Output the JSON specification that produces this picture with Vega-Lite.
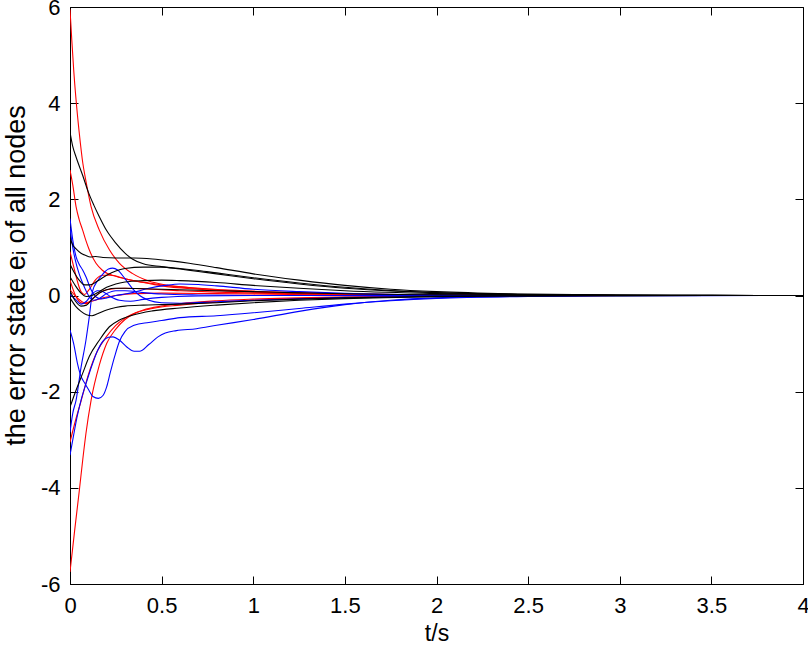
{
"$schema":"https://vega.github.io/schema/vega-lite/v6.json",
"width":733,"height":577,
"autosize":{"type":"none"},
"padding":{"left":70,"top":7,"right":5,"bottom":69},
"background":"white",
"config":{"view":{"stroke":"#000000","strokeWidth":1},
"axis":{"grid":false,"domainColor":"#000000","tickColor":"#000000","labelColor":"#000000","titleColor":"#000000","labelFont":"Liberation Sans","titleFont":"Liberation Sans","labelFontSize":22,"titleFontSize":23,"titleFontWeight":"normal","tickSize":-8,"domainWidth":1,"tickWidth":1,"labelFlush":false}},
"data":{"values":[
{"s":"K1","c":"k","t":0,"e":3.4},{"s":"K1","c":"k","t":0.015,"e":3.1},{"s":"K1","c":"k","t":0.033,"e":2.88},{"s":"K1","c":"k","t":0.069,"e":2.5},{"s":"K1","c":"k","t":0.1,"e":2.15},{"s":"K1","c":"k","t":0.13,"e":1.88},{"s":"K1","c":"k","t":0.16,"e":1.64},{"s":"K1","c":"k","t":0.2,"e":1.35},{"s":"K1","c":"k","t":0.25,"e":1.09},{"s":"K1","c":"k","t":0.3,"e":0.88},{"s":"K1","c":"k","t":0.34,"e":0.76},{"s":"K1","c":"k","t":0.4,"e":0.66},{"s":"K1","c":"k","t":0.5,"e":0.6},{"s":"K1","c":"k","t":0.6,"e":0.55},{"s":"K1","c":"k","t":0.7,"e":0.5},{"s":"K1","c":"k","t":0.8,"e":0.45},{"s":"K1","c":"k","t":1.0,"e":0.35},{"s":"K1","c":"k","t":1.25,"e":0.24},{"s":"K1","c":"k","t":1.5,"e":0.15},{"s":"K1","c":"k","t":1.75,"e":0.095},{"s":"K1","c":"k","t":2.0,"e":0.058},{"s":"K1","c":"k","t":2.5,"e":0.02},{"s":"K1","c":"k","t":3.0,"e":0.006},{"s":"K1","c":"k","t":3.5,"e":0.002},{"s":"K1","c":"k","t":4,"e":0},
{"s":"K2","c":"k","t":0,"e":1.2},{"s":"K2","c":"k","t":0.015,"e":1.05},{"s":"K2","c":"k","t":0.033,"e":0.97},{"s":"K2","c":"k","t":0.06,"e":0.88},{"s":"K2","c":"k","t":0.087,"e":0.83},{"s":"K2","c":"k","t":0.11,"e":0.8},{"s":"K2","c":"k","t":0.14,"e":0.81},{"s":"K2","c":"k","t":0.18,"e":0.79},{"s":"K2","c":"k","t":0.25,"e":0.78},{"s":"K2","c":"k","t":0.35,"e":0.78},{"s":"K2","c":"k","t":0.45,"e":0.76},{"s":"K2","c":"k","t":0.55,"e":0.72},{"s":"K2","c":"k","t":0.65,"e":0.67},{"s":"K2","c":"k","t":0.8,"e":0.58},{"s":"K2","c":"k","t":1.0,"e":0.45},{"s":"K2","c":"k","t":1.25,"e":0.32},{"s":"K2","c":"k","t":1.5,"e":0.21},{"s":"K2","c":"k","t":1.75,"e":0.13},{"s":"K2","c":"k","t":2.0,"e":0.08},{"s":"K2","c":"k","t":2.5,"e":0.028},{"s":"K2","c":"k","t":3.0,"e":0.009},{"s":"K2","c":"k","t":3.5,"e":0.003},{"s":"K2","c":"k","t":4,"e":0},
{"s":"K3","c":"k","t":0,"e":0.65},{"s":"K3","c":"k","t":0.02,"e":0.5},{"s":"K3","c":"k","t":0.05,"e":0.32},{"s":"K3","c":"k","t":0.08,"e":0.22},{"s":"K3","c":"k","t":0.11,"e":0.22},{"s":"K3","c":"k","t":0.15,"e":0.3},{"s":"K3","c":"k","t":0.2,"e":0.42},{"s":"K3","c":"k","t":0.25,"e":0.51},{"s":"K3","c":"k","t":0.3,"e":0.56},{"s":"K3","c":"k","t":0.4,"e":0.59},{"s":"K3","c":"k","t":0.5,"e":0.59},{"s":"K3","c":"k","t":0.6,"e":0.56},{"s":"K3","c":"k","t":0.7,"e":0.52},{"s":"K3","c":"k","t":0.8,"e":0.47},{"s":"K3","c":"k","t":1.0,"e":0.37},{"s":"K3","c":"k","t":1.25,"e":0.26},{"s":"K3","c":"k","t":1.5,"e":0.17},{"s":"K3","c":"k","t":1.75,"e":0.105},{"s":"K3","c":"k","t":2.0,"e":0.063},{"s":"K3","c":"k","t":2.5,"e":0.021},{"s":"K3","c":"k","t":3.0,"e":0.007},{"s":"K3","c":"k","t":3.5,"e":0.002},{"s":"K3","c":"k","t":4,"e":0},
{"s":"K4","c":"k","t":0,"e":0.39},{"s":"K4","c":"k","t":0.03,"e":0.2},{"s":"K4","c":"k","t":0.06,"e":0.05},{"s":"K4","c":"k","t":0.09,"e":-0.02},{"s":"K4","c":"k","t":0.12,"e":0.0},{"s":"K4","c":"k","t":0.16,"e":0.08},{"s":"K4","c":"k","t":0.2,"e":0.17},{"s":"K4","c":"k","t":0.25,"e":0.24},{"s":"K4","c":"k","t":0.3,"e":0.28},{"s":"K4","c":"k","t":0.4,"e":0.31},{"s":"K4","c":"k","t":0.5,"e":0.32},{"s":"K4","c":"k","t":0.6,"e":0.31},{"s":"K4","c":"k","t":0.8,"e":0.27},{"s":"K4","c":"k","t":1.0,"e":0.21},{"s":"K4","c":"k","t":1.25,"e":0.15},{"s":"K4","c":"k","t":1.5,"e":0.1},{"s":"K4","c":"k","t":2.0,"e":0.04},{"s":"K4","c":"k","t":2.5,"e":0.013},{"s":"K4","c":"k","t":3.0,"e":0.004},{"s":"K4","c":"k","t":4,"e":0},
{"s":"K5","c":"k","t":0,"e":0.1},{"s":"K5","c":"k","t":0.03,"e":-0.12},{"s":"K5","c":"k","t":0.06,"e":-0.22},{"s":"K5","c":"k","t":0.09,"e":-0.2},{"s":"K5","c":"k","t":0.12,"e":-0.08},{"s":"K5","c":"k","t":0.16,"e":0.05},{"s":"K5","c":"k","t":0.2,"e":0.12},{"s":"K5","c":"k","t":0.25,"e":0.15},{"s":"K5","c":"k","t":0.3,"e":0.15},{"s":"K5","c":"k","t":0.4,"e":0.14},{"s":"K5","c":"k","t":0.6,"e":0.12},{"s":"K5","c":"k","t":0.8,"e":0.1},{"s":"K5","c":"k","t":1.0,"e":0.08},{"s":"K5","c":"k","t":1.25,"e":0.055},{"s":"K5","c":"k","t":1.5,"e":0.035},{"s":"K5","c":"k","t":2.0,"e":0.013},{"s":"K5","c":"k","t":2.5,"e":0.004},{"s":"K5","c":"k","t":3.0,"e":0.001},{"s":"K5","c":"k","t":4,"e":0},
{"s":"K6","c":"k","t":0,"e":-0.05},{"s":"K6","c":"k","t":0.03,"e":-0.22},{"s":"K6","c":"k","t":0.06,"e":-0.33},{"s":"K6","c":"k","t":0.09,"e":-0.4},{"s":"K6","c":"k","t":0.12,"e":-0.42},{"s":"K6","c":"k","t":0.15,"e":-0.38},{"s":"K6","c":"k","t":0.2,"e":-0.3},{"s":"K6","c":"k","t":0.25,"e":-0.25},{"s":"K6","c":"k","t":0.3,"e":-0.22},{"s":"K6","c":"k","t":0.4,"e":-0.2},{"s":"K6","c":"k","t":0.5,"e":-0.19},{"s":"K6","c":"k","t":0.6,"e":-0.18},{"s":"K6","c":"k","t":0.8,"e":-0.15},{"s":"K6","c":"k","t":1.0,"e":-0.11},{"s":"K6","c":"k","t":1.25,"e":-0.075},{"s":"K6","c":"k","t":1.5,"e":-0.05},{"s":"K6","c":"k","t":2.0,"e":-0.02},{"s":"K6","c":"k","t":2.5,"e":-0.007},{"s":"K6","c":"k","t":3.0,"e":-0.002},{"s":"K6","c":"k","t":4,"e":0},
{"s":"K7","c":"k","t":0,"e":-2.32},{"s":"K7","c":"k","t":0.033,"e":-1.97},{"s":"K7","c":"k","t":0.069,"e":-1.62},{"s":"K7","c":"k","t":0.105,"e":-1.27},{"s":"K7","c":"k","t":0.16,"e":-0.93},{"s":"K7","c":"k","t":0.215,"e":-0.65},{"s":"K7","c":"k","t":0.27,"e":-0.51},{"s":"K7","c":"k","t":0.34,"e":-0.41},{"s":"K7","c":"k","t":0.45,"e":-0.32},{"s":"K7","c":"k","t":0.6,"e":-0.26},{"s":"K7","c":"k","t":0.8,"e":-0.2},{"s":"K7","c":"k","t":1.0,"e":-0.15},{"s":"K7","c":"k","t":1.25,"e":-0.1},{"s":"K7","c":"k","t":1.5,"e":-0.065},{"s":"K7","c":"k","t":2.0,"e":-0.025},{"s":"K7","c":"k","t":2.5,"e":-0.008},{"s":"K7","c":"k","t":3.0,"e":-0.002},{"s":"K7","c":"k","t":4,"e":0},
{"s":"R1","c":"r","t":0,"e":5.95},{"s":"R1","c":"r","t":0.01,"e":5.3},{"s":"R1","c":"r","t":0.02,"e":4.7},{"s":"R1","c":"r","t":0.033,"e":4.07},{"s":"R1","c":"r","t":0.05,"e":3.4},{"s":"R1","c":"r","t":0.07,"e":2.75},{"s":"R1","c":"r","t":0.087,"e":2.38},{"s":"R1","c":"r","t":0.115,"e":1.85},{"s":"R1","c":"r","t":0.16,"e":1.36},{"s":"R1","c":"r","t":0.215,"e":0.95},{"s":"R1","c":"r","t":0.27,"e":0.67},{"s":"R1","c":"r","t":0.34,"e":0.46},{"s":"R1","c":"r","t":0.43,"e":0.3},{"s":"R1","c":"r","t":0.52,"e":0.22},{"s":"R1","c":"r","t":0.6,"e":0.18},{"s":"R1","c":"r","t":0.8,"e":0.12},{"s":"R1","c":"r","t":1.0,"e":0.08},{"s":"R1","c":"r","t":1.25,"e":0.05},{"s":"R1","c":"r","t":1.5,"e":0.03},{"s":"R1","c":"r","t":2.0,"e":0.01},{"s":"R1","c":"r","t":2.5,"e":0.003},{"s":"R1","c":"r","t":3.0,"e":0.001},{"s":"R1","c":"r","t":4,"e":0},
{"s":"R2","c":"r","t":0,"e":2.61},{"s":"R2","c":"r","t":0.015,"e":2.3},{"s":"R2","c":"r","t":0.033,"e":1.85},{"s":"R2","c":"r","t":0.05,"e":1.58},{"s":"R2","c":"r","t":0.069,"e":1.36},{"s":"R2","c":"r","t":0.087,"e":1.14},{"s":"R2","c":"r","t":0.105,"e":0.95},{"s":"R2","c":"r","t":0.142,"e":0.67},{"s":"R2","c":"r","t":0.178,"e":0.52},{"s":"R2","c":"r","t":0.25,"e":0.4},{"s":"R2","c":"r","t":0.33,"e":0.32},{"s":"R2","c":"r","t":0.43,"e":0.26},{"s":"R2","c":"r","t":0.55,"e":0.2},{"s":"R2","c":"r","t":0.7,"e":0.15},{"s":"R2","c":"r","t":1.0,"e":0.09},{"s":"R2","c":"r","t":1.25,"e":0.06},{"s":"R2","c":"r","t":1.5,"e":0.035},{"s":"R2","c":"r","t":2.0,"e":0.012},{"s":"R2","c":"r","t":2.5,"e":0.004},{"s":"R2","c":"r","t":3.0,"e":0.001},{"s":"R2","c":"r","t":4,"e":0},
{"s":"R3","c":"r","t":0,"e":0.91},{"s":"R3","c":"r","t":0.02,"e":0.6},{"s":"R3","c":"r","t":0.04,"e":0.3},{"s":"R3","c":"r","t":0.06,"e":0.08},{"s":"R3","c":"r","t":0.08,"e":0.02},{"s":"R3","c":"r","t":0.1,"e":0.1},{"s":"R3","c":"r","t":0.14,"e":0.33},{"s":"R3","c":"r","t":0.18,"e":0.42},{"s":"R3","c":"r","t":0.22,"e":0.42},{"s":"R3","c":"r","t":0.3,"e":0.35},{"s":"R3","c":"r","t":0.4,"e":0.27},{"s":"R3","c":"r","t":0.5,"e":0.2},{"s":"R3","c":"r","t":0.7,"e":0.13},{"s":"R3","c":"r","t":1.0,"e":0.07},{"s":"R3","c":"r","t":1.5,"e":0.025},{"s":"R3","c":"r","t":2.0,"e":0.008},{"s":"R3","c":"r","t":3.0,"e":0.001},{"s":"R3","c":"r","t":4,"e":0},
{"s":"R4","c":"r","t":0,"e":0.32},{"s":"R4","c":"r","t":0.03,"e":0.0},{"s":"R4","c":"r","t":0.06,"e":-0.15},{"s":"R4","c":"r","t":0.09,"e":-0.17},{"s":"R4","c":"r","t":0.12,"e":-0.08},{"s":"R4","c":"r","t":0.16,"e":0.05},{"s":"R4","c":"r","t":0.2,"e":0.12},{"s":"R4","c":"r","t":0.3,"e":0.15},{"s":"R4","c":"r","t":0.4,"e":0.14},{"s":"R4","c":"r","t":0.6,"e":0.1},{"s":"R4","c":"r","t":0.8,"e":0.07},{"s":"R4","c":"r","t":1.0,"e":0.05},{"s":"R4","c":"r","t":1.5,"e":0.02},{"s":"R4","c":"r","t":2.0,"e":0.006},{"s":"R4","c":"r","t":3.0,"e":0.001},{"s":"R4","c":"r","t":4,"e":0},
{"s":"R5","c":"r","t":0,"e":0.12},{"s":"R5","c":"r","t":0.04,"e":-0.05},{"s":"R5","c":"r","t":0.08,"e":-0.15},{"s":"R5","c":"r","t":0.12,"e":-0.12},{"s":"R5","c":"r","t":0.18,"e":-0.05},{"s":"R5","c":"r","t":0.25,"e":0.0},{"s":"R5","c":"r","t":0.35,"e":0.04},{"s":"R5","c":"r","t":0.5,"e":0.05},{"s":"R5","c":"r","t":0.8,"e":0.04},{"s":"R5","c":"r","t":1.2,"e":0.02},{"s":"R5","c":"r","t":2.0,"e":0.004},{"s":"R5","c":"r","t":4,"e":0},
{"s":"R6","c":"r","t":0,"e":-5.75},{"s":"R6","c":"r","t":0.025,"e":-4.9},{"s":"R6","c":"r","t":0.051,"e":-4.05},{"s":"R6","c":"r","t":0.07,"e":-3.4},{"s":"R6","c":"r","t":0.087,"e":-2.87},{"s":"R6","c":"r","t":0.115,"e":-2.18},{"s":"R6","c":"r","t":0.16,"e":-1.45},{"s":"R6","c":"r","t":0.2,"e":-1.0},{"s":"R6","c":"r","t":0.25,"e":-0.7},{"s":"R6","c":"r","t":0.3,"e":-0.5},{"s":"R6","c":"r","t":0.35,"e":-0.38},{"s":"R6","c":"r","t":0.45,"e":-0.27},{"s":"R6","c":"r","t":0.6,"e":-0.2},{"s":"R6","c":"r","t":0.8,"e":-0.14},{"s":"R6","c":"r","t":1.0,"e":-0.1},{"s":"R6","c":"r","t":1.25,"e":-0.065},{"s":"R6","c":"r","t":1.5,"e":-0.04},{"s":"R6","c":"r","t":2.0,"e":-0.014},{"s":"R6","c":"r","t":2.5,"e":-0.004},{"s":"R6","c":"r","t":3.0,"e":-0.001},{"s":"R6","c":"r","t":4,"e":0},
{"s":"R7","c":"r","t":0,"e":-3.05},{"s":"R7","c":"r","t":0.03,"e":-2.6},{"s":"R7","c":"r","t":0.06,"e":-2.2},{"s":"R7","c":"r","t":0.1,"e":-1.65},{"s":"R7","c":"r","t":0.15,"e":-1.15},{"s":"R7","c":"r","t":0.2,"e":-0.85},{"s":"R7","c":"r","t":0.25,"e":-0.62},{"s":"R7","c":"r","t":0.3,"e":-0.47},{"s":"R7","c":"r","t":0.4,"e":-0.3},{"s":"R7","c":"r","t":0.5,"e":-0.22},{"s":"R7","c":"r","t":0.6,"e":-0.17},{"s":"R7","c":"r","t":0.8,"e":-0.11},{"s":"R7","c":"r","t":1.0,"e":-0.075},{"s":"R7","c":"r","t":1.5,"e":-0.03},{"s":"R7","c":"r","t":2.0,"e":-0.01},{"s":"R7","c":"r","t":3.0,"e":-0.001},{"s":"R7","c":"r","t":4,"e":0},
{"s":"L1","c":"b","t":0,"e":1.6},{"s":"L1","c":"b","t":0.015,"e":1.16},{"s":"L1","c":"b","t":0.033,"e":0.81},{"s":"L1","c":"b","t":0.05,"e":0.65},{"s":"L1","c":"b","t":0.069,"e":0.53},{"s":"L1","c":"b","t":0.087,"e":0.39},{"s":"L1","c":"b","t":0.115,"e":0.12},{"s":"L1","c":"b","t":0.142,"e":-0.03},{"s":"L1","c":"b","t":0.17,"e":-0.07},{"s":"L1","c":"b","t":0.2,"e":-0.05},{"s":"L1","c":"b","t":0.25,"e":0.0},{"s":"L1","c":"b","t":0.3,"e":0.03},{"s":"L1","c":"b","t":0.34,"e":0.06},{"s":"L1","c":"b","t":0.43,"e":0.15},{"s":"L1","c":"b","t":0.52,"e":0.21},{"s":"L1","c":"b","t":0.6,"e":0.24},{"s":"L1","c":"b","t":0.7,"e":0.23},{"s":"L1","c":"b","t":0.8,"e":0.2},{"s":"L1","c":"b","t":1.0,"e":0.13},{"s":"L1","c":"b","t":1.25,"e":0.08},{"s":"L1","c":"b","t":1.5,"e":0.045},{"s":"L1","c":"b","t":2.0,"e":0.012},{"s":"L1","c":"b","t":2.5,"e":0.003},{"s":"L1","c":"b","t":3.0,"e":0.001},{"s":"L1","c":"b","t":4,"e":0},
{"s":"L2","c":"b","t":0,"e":-2.84},{"s":"L2","c":"b","t":0.015,"e":-2.45},{"s":"L2","c":"b","t":0.033,"e":-2.18},{"s":"L2","c":"b","t":0.06,"e":-1.5},{"s":"L2","c":"b","t":0.087,"e":-0.93},{"s":"L2","c":"b","t":0.105,"e":-0.45},{"s":"L2","c":"b","t":0.124,"e":0.1},{"s":"L2","c":"b","t":0.15,"e":0.3},{"s":"L2","c":"b","t":0.18,"e":0.45},{"s":"L2","c":"b","t":0.21,"e":0.55},{"s":"L2","c":"b","t":0.233,"e":0.57},{"s":"L2","c":"b","t":0.26,"e":0.53},{"s":"L2","c":"b","t":0.3,"e":0.35},{"s":"L2","c":"b","t":0.34,"e":0.15},{"s":"L2","c":"b","t":0.38,"e":0.0},{"s":"L2","c":"b","t":0.43,"e":-0.1},{"s":"L2","c":"b","t":0.5,"e":-0.15},{"s":"L2","c":"b","t":0.6,"e":-0.16},{"s":"L2","c":"b","t":0.8,"e":-0.13},{"s":"L2","c":"b","t":1.0,"e":-0.1},{"s":"L2","c":"b","t":1.25,"e":-0.07},{"s":"L2","c":"b","t":1.5,"e":-0.04},{"s":"L2","c":"b","t":2.0,"e":-0.013},{"s":"L2","c":"b","t":2.5,"e":-0.004},{"s":"L2","c":"b","t":3.0,"e":-0.001},{"s":"L2","c":"b","t":4,"e":0},
{"s":"L3","c":"b","t":0,"e":-3.32},{"s":"L3","c":"b","t":0.02,"e":-2.9},{"s":"L3","c":"b","t":0.04,"e":-2.5},{"s":"L3","c":"b","t":0.06,"e":-2.18},{"s":"L3","c":"b","t":0.09,"e":-1.8},{"s":"L3","c":"b","t":0.12,"e":-1.45},{"s":"L3","c":"b","t":0.15,"e":-1.15},{"s":"L3","c":"b","t":0.18,"e":-0.95},{"s":"L3","c":"b","t":0.21,"e":-0.87},{"s":"L3","c":"b","t":0.235,"e":-0.86},{"s":"L3","c":"b","t":0.27,"e":-0.93},{"s":"L3","c":"b","t":0.31,"e":-1.07},{"s":"L3","c":"b","t":0.35,"e":-1.16},{"s":"L3","c":"b","t":0.38,"e":-1.16},{"s":"L3","c":"b","t":0.43,"e":-1.02},{"s":"L3","c":"b","t":0.48,"e":-0.86},{"s":"L3","c":"b","t":0.52,"e":-0.78},{"s":"L3","c":"b","t":0.58,"e":-0.73},{"s":"L3","c":"b","t":0.69,"e":-0.69},{"s":"L3","c":"b","t":0.8,"e":-0.62},{"s":"L3","c":"b","t":1.0,"e":-0.5},{"s":"L3","c":"b","t":1.25,"e":-0.33},{"s":"L3","c":"b","t":1.5,"e":-0.19},{"s":"L3","c":"b","t":1.75,"e":-0.1},{"s":"L3","c":"b","t":2.0,"e":-0.05},{"s":"L3","c":"b","t":2.5,"e":-0.015},{"s":"L3","c":"b","t":3.0,"e":-0.004},{"s":"L3","c":"b","t":4,"e":0},
{"s":"L4","c":"b","t":0,"e":-0.72},{"s":"L4","c":"b","t":0.02,"e":-1.0},{"s":"L4","c":"b","t":0.04,"e":-1.4},{"s":"L4","c":"b","t":0.06,"e":-1.68},{"s":"L4","c":"b","t":0.08,"e":-1.82},{"s":"L4","c":"b","t":0.1,"e":-1.95},{"s":"L4","c":"b","t":0.125,"e":-2.1},{"s":"L4","c":"b","t":0.155,"e":-2.14},{"s":"L4","c":"b","t":0.18,"e":-2.08},{"s":"L4","c":"b","t":0.2,"e":-1.9},{"s":"L4","c":"b","t":0.22,"e":-1.6},{"s":"L4","c":"b","t":0.245,"e":-1.25},{"s":"L4","c":"b","t":0.27,"e":-0.95},{"s":"L4","c":"b","t":0.3,"e":-0.75},{"s":"L4","c":"b","t":0.35,"e":-0.62},{"s":"L4","c":"b","t":0.43,"e":-0.56},{"s":"L4","c":"b","t":0.5,"e":-0.52},{"s":"L4","c":"b","t":0.6,"e":-0.46},{"s":"L4","c":"b","t":0.8,"e":-0.42},{"s":"L4","c":"b","t":1.0,"e":-0.36},{"s":"L4","c":"b","t":1.25,"e":-0.27},{"s":"L4","c":"b","t":1.5,"e":-0.18},{"s":"L4","c":"b","t":1.75,"e":-0.11},{"s":"L4","c":"b","t":2.0,"e":-0.06},{"s":"L4","c":"b","t":2.5,"e":-0.02},{"s":"L4","c":"b","t":3.0,"e":-0.005},{"s":"L4","c":"b","t":4,"e":0},
{"s":"L5","c":"b","t":0,"e":0.02},{"s":"L5","c":"b","t":0.03,"e":-0.08},{"s":"L5","c":"b","t":0.06,"e":-0.18},{"s":"L5","c":"b","t":0.09,"e":-0.12},{"s":"L5","c":"b","t":0.12,"e":0.03},{"s":"L5","c":"b","t":0.15,"e":0.1},{"s":"L5","c":"b","t":0.18,"e":0.08},{"s":"L5","c":"b","t":0.22,"e":-0.02},{"s":"L5","c":"b","t":0.27,"e":-0.1},{"s":"L5","c":"b","t":0.33,"e":-0.12},{"s":"L5","c":"b","t":0.4,"e":-0.08},{"s":"L5","c":"b","t":0.5,"e":-0.04},{"s":"L5","c":"b","t":0.7,"e":-0.01},{"s":"L5","c":"b","t":1.0,"e":0.0},{"s":"L5","c":"b","t":4,"e":0},
{"s":"L6","c":"b","t":0,"e":1.4},{"s":"L6","c":"b","t":0.015,"e":1.0},{"s":"L6","c":"b","t":0.03,"e":0.72},{"s":"L6","c":"b","t":0.05,"e":0.45},{"s":"L6","c":"b","t":0.07,"e":0.25},{"s":"L6","c":"b","t":0.09,"e":0.08},{"s":"L6","c":"b","t":0.11,"e":-0.05},{"s":"L6","c":"b","t":0.13,"e":-0.1},{"s":"L6","c":"b","t":0.16,"e":-0.06},{"s":"L6","c":"b","t":0.2,"e":0.04},{"s":"L6","c":"b","t":0.25,"e":0.1},{"s":"L6","c":"b","t":0.3,"e":0.1},{"s":"L6","c":"b","t":0.4,"e":0.06},{"s":"L6","c":"b","t":0.5,"e":0.03},{"s":"L6","c":"b","t":0.7,"e":0.01},{"s":"L6","c":"b","t":1.0,"e":0.0},{"s":"L6","c":"b","t":4,"e":0}
]},
"layer":[
{"transform":[{"filter":"datum.c=='r'"}],
"mark":{"type":"line","color":"#ff0000","strokeWidth":1.1,"interpolate":"monotone","clip":true},
"encoding":{
"x":{"field":"t","type":"quantitative","scale":{"domain":[0,4],"nice":false,"zero":false},"axis":{"orient":"bottom","values":[0,0.5,1,1.5,2,2.5,3,3.5,4],"labelExpr":"datum.value + ''","title":"t/s","labelPadding":19,"titlePadding":6}},
"y":{"field":"e","type":"quantitative","scale":{"domain":[-6,6],"nice":false,"zero":false},"axis":{"orient":"left","values":[-6,-4,-2,0,2,4,6],"labelExpr":"replace(datum.label, '\u2212', '-')","title":"the error state eᵢ of all nodes","titleFontSize":27,"titleY":268,"titleX":-40,"labelPadding":18}},
"detail":{"field":"s"}}},
{"transform":[{"filter":"datum.c=='b'"}],
"mark":{"type":"line","color":"#0000ff","strokeWidth":1.1,"interpolate":"monotone","clip":true},
"encoding":{
"x":{"field":"t","type":"quantitative","axis":{"orient":"top","values":[0,0.5,1,1.5,2,2.5,3,3.5,4],"labels":false,"title":null,"domain":false}},
"y":{"field":"e","type":"quantitative","axis":{"orient":"right","values":[-6,-4,-2,0,2,4,6],"labels":false,"title":null,"domain":false}},
"detail":{"field":"s"}}},
{"transform":[{"filter":"datum.c=='k'"}],
"mark":{"type":"line","color":"#000000","strokeWidth":1.1,"interpolate":"monotone","clip":true},
"encoding":{
"x":{"field":"t","type":"quantitative","axis":null},
"y":{"field":"e","type":"quantitative","axis":null},
"detail":{"field":"s"}}}
],
"resolve":{"axis":{"x":"independent","y":"independent"}}
}
